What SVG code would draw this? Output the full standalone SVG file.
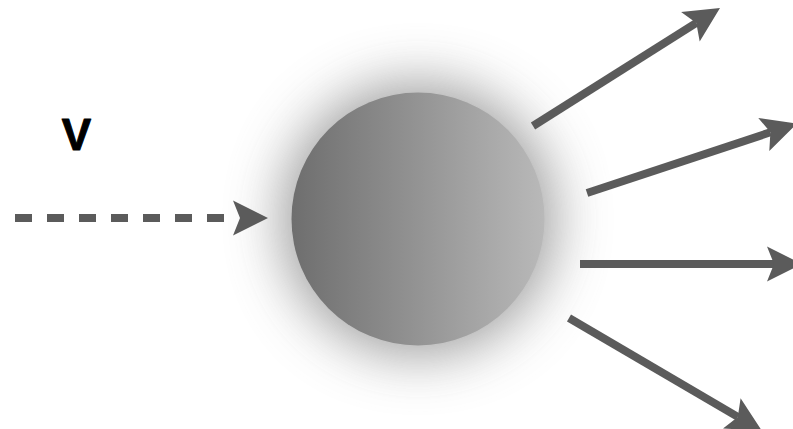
<svg xmlns="http://www.w3.org/2000/svg" width="793" height="429" viewBox="0 0 793 429">
  <style>
    .conn { stroke: #5b5b5b; stroke-width: 8; fill: none; }
    .dash { stroke-dasharray: 17 15; }
    .head { fill: #5b5b5b; }
    .label { font-family: "Liberation Sans", "DejaVu Sans", sans-serif; font-weight: bold; font-size: 44px; fill: #000; stroke: #000; stroke-width: 1; stroke-linejoin: round; }
  </style>
  <defs>
    <linearGradient id="ballGrad" x1="0" y1="0" x2="1" y2="0">
      <stop offset="0" stop-color="#6e6e6e"/>
      <stop offset="1" stop-color="#b9b9b9"/>
    </linearGradient>
    <filter id="glow" x="-60%" y="-60%" width="220%" height="220%">
      <feGaussianBlur stdDeviation="28"/>
    </filter>
  </defs>

  <g id="ball">
    <circle cx="418" cy="219" r="136" fill="#7a7a7a" opacity="0.75" filter="url(#glow)"/>
    <circle cx="418" cy="219" r="126.5" fill="url(#ballGrad)"/>
  </g>

  <g id="label-v">
    <text class="label" x="76.5" y="150" text-anchor="middle">V</text>
  </g>

  <g id="connectors">
    <line class="conn dash" x1="15" y1="218" x2="224" y2="218"/>
    <path class="head" d="M268,218 L233,200.5 L240,218 L233,235.5 Z"/>

    <line class="conn" x1="533" y1="126" x2="696.3" y2="22.9"/>
    <path class="head" d="M720,8 L681.1,11.9 L696.3,22.9 L699.7,41.5 Z"/>

    <line class="conn" x1="587" y1="193" x2="770.4" y2="132.3"/>
    <path class="head" d="M797,123.5 L758.3,117.9 L770.4,132.3 L769.3,151.1 Z"/>

    <line class="conn" x1="580" y1="264" x2="774" y2="264"/>
    <path class="head" d="M802,264 L767,246.5 L774,264 L767,281.5 Z"/>

    <line class="conn" x1="569" y1="318" x2="737.8" y2="416.9"/>
    <path class="head" d="M762,431 L740.6,398.2 L737.8,416.9 L723,428.4 Z"/>
  </g>
</svg>
